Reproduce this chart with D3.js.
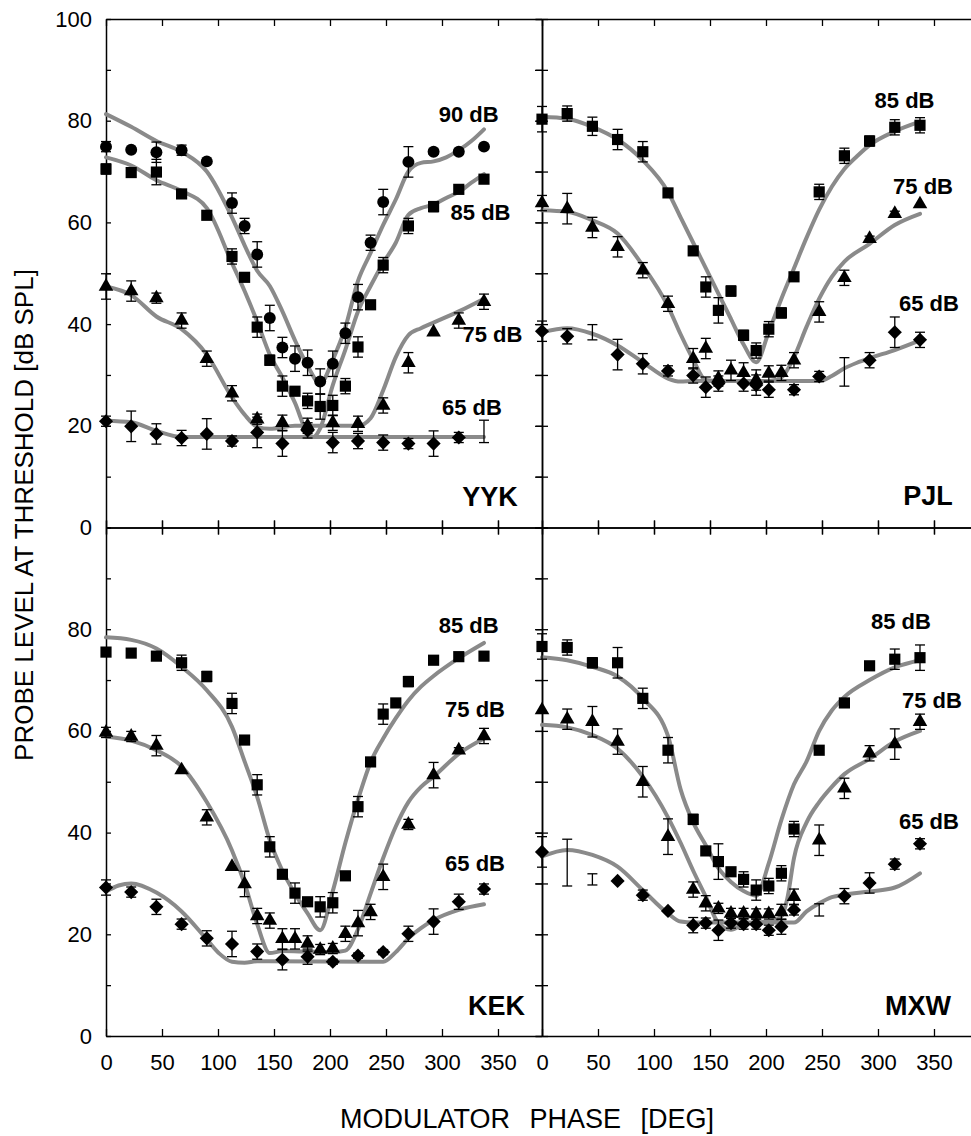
<!DOCTYPE html>
<html>
<head>
<meta charset="utf-8">
<script src="https://cdn.jsdelivr.net/npm/d3@7"></script>
<style>
  body { margin: 0; background: #fff; }
  text { font-family: "Liberation Sans", Arial, sans-serif; }
</style>
</head>
<body>
<div class="canvas"></div>
<script>
// tick values
const phaseTicks = [0, 50, 100, 150, 200, 250, 300, 350];
const levelTicks = [0, 10, 20, 30, 40, 50, 60, 70, 80, 90, 100];

// measured points: [phase deg, level dB, error dB]
const yyk90 = [[0,74.9,1],[22.5,74.3,0],[45,73.8,2],[67.5,74.2,1],[90,72.0,0],[112.5,63.8,2],[123.75,59.3,1.5],[135,53.7,2.5],[146.25,41.2,2.5],[157.5,35.4,2],[168.75,33.2,2.5],[180,32.4,2.5],[191.25,28.7,2.5],[202.5,32.2,2.5],[213.75,38.2,2],[225,45.3,2.5],[236.25,56,1.5],[247.5,64,2.5],[270,71.9,3],[292.5,73.9,0.5],[315,73.9,0.5],[337.5,74.9,0]];
const yyk85 = [[0,70.5,1],[22.5,69.8,0],[45,69.9,2.5],[67.5,65.6,0],[90,61.4,0],[112.5,53.3,1.5],[123.75,49.2,0],[135,39.4,2],[146.25,32.9,1],[157.5,27.8,2],[168.75,26.8,0],[180,24.9,1.5],[191.25,23.8,2.5],[202.5,24,2],[213.75,27.8,1.5],[225,35.5,2],[236.25,43.8,0],[247.5,51.6,1.5],[270,59.3,1.5],[292.5,63.1,1],[315,66.5,0],[337.5,68.5,0]];
const yyk75 = [[0,47.4,2.5],[22.5,46.5,2],[45,45.1,1],[67.5,40.7,1.5],[90,33.2,1.5],[112.5,26.4,1.5],[135,21.3,1],[157.5,20.6,1.5],[180,20,1.5],[202.5,20.6,1.5],[225,20.4,1.5],[247.5,24,1.5],[270,32.4,2],[292.5,38.4,0],[315,40.7,1.5],[337.5,44.4,1.5]];
const yyk65 = [[0,20.9,1],[22.5,19.9,3],[45,18.4,2],[67.5,17.6,1.5],[90,18.4,3],[112.5,17,1],[135,18.7,3],[157.5,16.5,2.5],[180,19.1,1.5],[202.5,16.7,2],[225,17,1.5],[247.5,16.7,1.5],[270,16.5,1],[292.5,16.5,2.5],[315,17.7,1]];
const yykBare = [[337.5,18.9,2.2]];

const pjl85 = [[0,80.3,2.5],[22.5,81.4,1.5],[45,78.9,1.8],[67.5,76.3,2],[90,73.9,2],[112.5,65.8,0],[135,54.4,0],[146.25,47.3,2],[157.5,42.7,2.5],[168.75,46.5,1],[180,37.8,1],[191.25,34.8,1.5],[202.5,39,1.5],[213.75,42.2,1],[225,49.3,0],[247.5,66,1.5],[270,73.1,1.5],[292.5,76,1],[315,78.7,1.5],[337.5,79.1,1.5]];
const pjl75 = [[0,63.8,1.5],[22.5,62.7,3],[45,59,2],[67.5,55.2,2],[90,50.6,1.5],[112.5,44,1.5],[135,33.2,2],[146.25,35.2,2],[157.5,29.3,1.5],[168.75,30.9,2],[180,30.4,2],[191.25,29,2],[202.5,30.3,1.5],[213.75,30.4,1.5],[225,32.9,1.5],[247.5,42.4,2],[270,49.1,1.5],[292.5,56.8,0.5],[315,61.7,0.5],[337.5,63.6,0]];
const pjl65 = [[0,38.6,2],[22.5,37.6,1.5],[67.5,34,3],[90,32.2,2],[112.5,30.8,1],[135,29.9,1.5],[146.25,27.6,2],[157.5,28.3,1.5],[180,28.3,1.5],[191.25,28,2],[202.5,27.1,1.5],[225,27.1,1],[247.5,29.7,1],[292.5,32.9,1.5],[315,38.4,3],[337.5,36.9,1.5]];
const pjlBare = [[45,38.4,1.5],[270,30.6,2.8]];

const kek85 = [[0,75.5,0],[22.5,75.3,0],[45,74.7,0],[67.5,73.4,1.5],[90,70.7,1],[112.5,65.4,2],[123.75,58.2,0],[135,49.4,2],[146.25,37.2,2],[157.5,31.8,0],[168.75,28.1,2],[180,26.4,0],[191.25,25.4,2],[202.5,26.2,2],[213.75,31.5,0],[225,45.1,2],[236.25,53.9,0],[247.5,63.3,2],[258.75,65.5,0],[270,69.7,1],[292.5,73.9,0],[315,74.6,0],[337.5,74.7,0]];
const kek75 = [[0,59.7,1],[22.5,58.9,1],[45,57.1,2],[67.5,52.3,0],[90,43,1.5],[112.5,33.3,0],[123.75,29.9,2.5],[135,23.6,1.5],[146.25,22.7,1.5],[157.5,19.1,2],[168.75,19.1,2],[180,18.2,1.5],[191.25,17,1],[202.5,17.2,1],[213.75,20.1,1.5],[225,22.2,2.5],[236.25,24.4,1.5],[247.5,31.3,2.5],[270,41.6,1],[292.5,51.3,2.5],[315,56.2,0.5],[337.5,59,1.5]];
const kek65 = [[0,29.2,1.5],[22.5,28.3,1],[45,25.4,1.5],[67.5,22,1],[90,19.2,1.5],[112.5,18.1,2.5],[135,16.6,1.5],[157.5,15,2],[180,15.6,1.5],[202.5,14.6,0.5],[225,15.8,0.5],[247.5,16.5,0.5],[270,20.1,1.5],[292.5,22.5,2.5],[315,26.4,1.5],[337.5,28.9,1]];
const kekBare = [];

const mxw85 = [[0,76.6,2.5],[22.5,76.4,1.5],[45,73.4,1],[67.5,73.4,3],[90,66.4,2],[112.5,56.2,2.5],[135,42.6,1],[146.25,36.4,0],[157.5,34.3,3.5],[168.75,32.3,0],[180,30.8,1.5],[191.25,28.7,2],[202.5,29.5,1.5],[213.75,32,1.5],[225,40.7,1.5],[247.5,56.2,0],[270,65.5,0.5],[292.5,72.8,0],[315,74.1,2],[337.5,74.4,2.5]];
const mxw75 = [[0,64.1,0],[22.5,62.3,2],[45,61.8,3],[67.5,57.9,2.5],[90,50,3],[112.5,39.2,3.5],[135,28.8,1.5],[146.25,26.1,1.5],[157.5,25.1,1],[168.75,24.1,1],[180,24.1,1],[191.25,24,1],[202.5,24,1],[213.75,24.4,1.5],[225,27.4,1.5],[247.5,38.5,3],[270,48.7,2],[292.5,55.6,1.5],[315,57.4,3],[337.5,61.8,1.5]];
const mxw65 = [[0,36.2,3],[67.5,30.5,0],[90,27.7,1],[112.5,24.6,0],[135,21.8,1.5],[146.25,22.2,1],[157.5,20.8,2],[168.75,22.2,1],[180,22,1],[191.25,22,1],[202.5,20.8,1],[213.75,21.5,1.5],[225,24.8,1],[270,27.5,1.5],[292.5,30.1,2],[315,33.8,1],[337.5,37.8,1]];
const mxwBare = [[22.5,34.1,4.6],[45,30.8,1.1],[247.5,24.8,1.2]];

// model fits: [phase deg, level dB]
const yyk90Fit = [[0,81.3],[22.5,78.8],[45,76],[67.5,73.9],[90,70],[112.5,61],[123.75,55.5],[135,50.5],[146.25,47.5],[157.5,42.5],[168.75,36.8],[180,31.8],[191.25,28.3],[202.5,33],[213.75,39.4],[225,48.5],[236.25,54],[247.5,59.5],[258.75,64.5],[270,70],[281.25,71.7],[292.5,72],[303.75,72.8],[315,74.2],[326.25,76],[337.5,78.3]];
const yyk85Fit = [[0,72.8],[22.5,71.2],[45,68.3],[67.5,66.2],[90,62.8],[112.5,52],[123.75,46.5],[135,40.5],[146.25,34],[157.5,29.5],[168.75,24.5],[180,18.5],[185,17.8],[191.25,19.5],[202.5,28],[213.75,35],[225,42.5],[236.25,47.5],[247.5,52],[258.75,56],[270,61.5],[281.25,62.8],[292.5,63.5],[303.75,64.8],[315,66],[326.25,67.8],[337.5,69.5]];
const yyk75Fit = [[0,47.4],[22.5,45.7],[45,41.5],[67.5,39],[90,34],[112.5,25.6],[123.75,22.2],[135,19.8],[146.25,19.4],[168.75,20],[202.5,20],[225,20],[236.25,21.5],[247.5,27],[258.75,33.5],[270,37.8],[281.25,39.2],[292.5,40.3],[315,42.5],[337.5,45]];
const yyk65Fit = [[0,21],[22.5,20.7],[45,19],[67.5,17.8],[90,17.8],[180,17.8],[270,17.8],[337.5,17.8]];

const pjl85Fit = [[0,80.8],[22.5,80.4],[45,78.8],[67.5,76.3],[90,72.2],[112.5,66],[123.75,61],[135,56],[146.25,51],[157.5,46],[168.75,41],[180,36],[191.25,32.5],[202.5,38.5],[213.75,45],[225,51],[236.25,57],[247.5,62.5],[258.75,67],[270,70.5],[281.25,73],[292.5,75.2],[315,77.9],[337.5,79.8]];
const pjl75Fit = [[0,62.4],[22.5,62.1],[45,60.4],[67.5,57.8],[90,51.5],[112.5,43.5],[123.75,38],[135,33],[146.25,29],[157.5,28.8],[202.5,28.8],[213.75,29.5],[225,33.5],[236.25,39.5],[247.5,45],[258.75,49.3],[270,52.3],[292.5,55.8],[315,59.5],[337.5,61.7]];
const pjl65Fit = [[0,38.4],[22.5,39.2],[45,38.1],[67.5,35.8],[90,32.5],[112.5,29.3],[123.75,28.7],[135,28.8],[247.5,28.8],[258.75,29.8],[270,31.3],[281.25,32.4],[292.5,33.3],[315,34.9],[337.5,36.8]];

const kek85Fit = [[0,78.4],[22.5,77.9],[45,76.2],[67.5,72.6],[90,68],[112.5,60.8],[123.75,54],[135,47],[146.25,38.5],[157.5,32.5],[168.75,28],[180,24.1],[191.25,20.8],[202.5,28.5],[213.75,38],[225,46.5],[236.25,53.8],[247.5,58.5],[258.75,62.5],[270,66],[281.25,68.7],[292.5,70.8],[315,74.3],[337.5,77.3]];
const kek75Fit = [[0,58.9],[22.5,58.1],[45,56.2],[67.5,53],[90,46],[112.5,36.5],[123.75,30],[135,22],[146.25,16.3],[157.5,16.7],[180,16.6],[202.5,16.5],[213.75,16.8],[225,21],[236.25,28],[247.5,35],[258.75,41.2],[270,46],[281.25,49],[292.5,51],[315,55.5],[337.5,58.5]];
const kek65Fit = [[0,28.4],[11.25,29.6],[22.5,30],[45,28.2],[67.5,24.5],[90,19],[101.25,16.2],[112.5,14.6],[123.75,14.4],[135,14.7],[247.5,14.6],[258.75,16.5],[270,19.2],[281.25,21.2],[292.5,22.8],[315,24.8],[337.5,25.9]];

const mxw85Fit = [[0,74.5],[22.5,73.9],[45,72.6],[67.5,70.7],[90,66.4],[112.5,59],[123.75,48.5],[135,42],[146.25,37.5],[157.5,33],[168.75,30.3],[180,28.5],[191.25,27.6],[202.5,34],[213.75,42.5],[225,49.5],[236.25,54],[247.5,60],[258.75,64],[270,66.7],[292.5,70],[315,72.5],[337.5,73.9]];
const mxw75Fit = [[0,61.2],[22.5,60.7],[45,59.2],[67.5,56.5],[90,51],[112.5,43],[123.75,38],[135,32.5],[146.25,27.4],[157.5,22.2],[168.75,20.9],[180,22],[191.25,22.3],[202.5,22.5],[213.75,23.5],[219,27],[225,35],[236.25,42],[247.5,46],[258.75,49],[270,51.5],[292.5,54.5],[315,57.9],[337.5,60]];
const mxw65Fit = [[0,35.3],[22.5,36.6],[45,35.6],[67.5,33.3],[90,28.7],[112.5,24.1],[123.75,22.5],[135,22.3],[225,22.3],[236.25,24.5],[247.5,26.1],[258.75,27.3],[270,27.8],[292.5,28.4],[315,29.2],[337.5,32]];

// annotations: [text, phase deg, level dB]
const yykLabels = [['90 dB',323.8,79.8],['85 dB',334.4,60.4],['75 dB',345,36.5],['65 dB',326.8,22.2]];
const pjlLabels = [['85 dB',323.7,82.5],['75 dB',340.2,65.6],['65 dB',345.5,42.5]];
const kekLabels = [['85 dB',323.8,79.3],['75 dB',329.5,62.7],['65 dB',329.5,32.4]];
const mxwLabels = [['85 dB',320.5,80],['75 dB',348.2,64.5],['65 dB',345.5,40.7]];

const panels = [
  {name: 'YYK', col: 0, row: 0, nameAt: [342.9, 4.3], labels: yykLabels, bare: yykBare,
   series: [{sym: 'circle', pts: yyk90, fit: yyk90Fit}, {sym: 'square', pts: yyk85, fit: yyk85Fit},
            {sym: 'triangle', pts: yyk75, fit: yyk75Fit}, {sym: 'diamond', pts: yyk65, fit: yyk65Fit}]},
  {name: 'PJL', col: 1, row: 0, nameAt: [344.6, 4.5], labels: pjlLabels, bare: pjlBare,
   series: [{sym: 'square', pts: pjl85, fit: pjl85Fit}, {sym: 'triangle', pts: pjl75, fit: pjl75Fit},
            {sym: 'diamond', pts: pjl65, fit: pjl65Fit}]},
  {name: 'KEK', col: 0, row: 1, nameAt: [348.7, 4.1], labels: kekLabels, bare: kekBare,
   series: [{sym: 'square', pts: kek85, fit: kek85Fit}, {sym: 'triangle', pts: kek75, fit: kek75Fit},
            {sym: 'diamond', pts: kek65, fit: kek65Fit}]},
  {name: 'MXW', col: 1, row: 1, nameAt: [335.7, 4.1], labels: mxwLabels, bare: mxwBare,
   series: [{sym: 'square', pts: mxw85, fit: mxw85Fit}, {sym: 'triangle', pts: mxw75, fit: mxw75Fit},
            {sym: 'diamond', pts: mxw65, fit: mxw65Fit}]},
];

const width = 971, height = 1136;
const margin = {left: 106, top: 19};
const panelW = 436, panelH = 508.5;

const svg = d3.select('.canvas')
  .append('svg')
  .attr('width', width)
  .attr('height', height)
  .style('background', '#fff');

const x = d3.scaleLinear().domain([0, 389.3]).range([0, panelW]);
const y = d3.scaleLinear().domain([0, 100]).range([panelH, 0]);

const symbolType = {
  circle: d3.symbolCircle, square: d3.symbolSquare,
  triangle: d3.symbolTriangle, diamond: d3.symbolSquare
};
const symbolSize = {circle: 112, square: 125, triangle: 92, diamond: 100};

const line = d3.line()
  .x(d => x(d[0]))
  .y(d => y(d[1]))
  .curve(d3.curveMonotoneX);

function styleAxis(g) {
  g.selectAll('path').attr('stroke', '#000').attr('stroke-width', 1.5);
  g.selectAll('line').attr('stroke', '#000').attr('stroke-width', 1.3);
  g.selectAll('text')
    .attr('font-size', 22)
    .attr('font-family', '"Liberation Sans", Arial, sans-serif')
    .attr('fill', '#000');
}

function errorBars(g, pts) {
  const bars = g.selectAll(null)
    .data(pts.filter(d => d[2] > 0))
    .enter().append('g')
    .attr('stroke', '#000')
    .attr('stroke-width', 1.3);
  bars.append('line')
    .attr('x1', d => x(d[0])).attr('x2', d => x(d[0]))
    .attr('y1', d => y(d[1] - d[2])).attr('y2', d => y(d[1] + d[2]));
  bars.append('line')
    .attr('x1', d => x(d[0]) - 5).attr('x2', d => x(d[0]) + 5)
    .attr('y1', d => y(d[1] + d[2])).attr('y2', d => y(d[1] + d[2]));
  bars.append('line')
    .attr('x1', d => x(d[0]) - 5).attr('x2', d => x(d[0]) + 5)
    .attr('y1', d => y(d[1] - d[2])).attr('y2', d => y(d[1] - d[2]));
}

panels.forEach(p => {
  const g = svg.append('g')
    .attr('transform', `translate(${margin.left + p.col * panelW}, ${margin.top + p.row * panelH})`);

  // left edge
  const left = d3.axisLeft(y).tickValues(levelTicks).tickSizeInner(-5).tickSizeOuter(0)
    .tickPadding(14)
    .tickFormat(d => (p.col === 0 && d % 20 === 0 && !(p.row === 1 && d === 100)) ? d : '');
  if (p.col === 1) left.tickSizeInner(6);
  const leftG = g.append('g').call(left);
  if (p.col === 1) leftG.selectAll('.tick line').attr('x1', 6).attr('x2', -6);
  styleAxis(leftG);

  // right edge
  const right = d3.axisRight(y).tickValues(levelTicks).tickSizeInner(-7).tickSizeOuter(0).tickFormat('');
  styleAxis(g.append('g').attr('transform', `translate(${panelW},0)`).call(right));

  // top edge
  const top = d3.axisTop(x).tickValues(phaseTicks).tickSizeInner(-7).tickSizeOuter(0).tickFormat('');
  const topG = g.append('g').call(top);
  if (p.row === 1) topG.selectAll('.tick line').attr('y1', -7).attr('y2', 7);
  styleAxis(topG);

  // bottom edge
  const bottom = d3.axisBottom(x).tickValues(phaseTicks).tickSizeInner(-7).tickSizeOuter(0)
    .tickPadding(18)
    .tickFormat(d => p.row === 1 ? d : '');
  const bottomG = g.append('g').attr('transform', `translate(0,${panelH})`).call(bottom);
  if (p.row === 0) bottomG.selectAll('.tick line').attr('y1', -7).attr('y2', 7);
  styleAxis(bottomG);

  // fitted curves
  g.selectAll('path.fit')
    .data(p.series)
    .enter().append('path')
    .attr('class', 'fit')
    .attr('d', s => line(s.fit))
    .attr('fill', 'none')
    .attr('stroke', '#8a8a8a')
    .attr('stroke-width', 4)
    .attr('stroke-linecap', 'round');

  // error bars and symbols
  p.series.forEach(s => {
    errorBars(g, s.pts);
    g.selectAll(null)
      .data(s.pts)
      .enter().append('path')
      .attr('d', d3.symbol().type(symbolType[s.sym]).size(symbolSize[s.sym]))
      .attr('transform', d => `translate(${x(d[0])},${y(d[1])})` + (s.sym === 'diamond' ? ' rotate(45)' : ''))
      .attr('fill', '#000');
  });
  errorBars(g, p.bare);

  // level labels
  g.selectAll('text.lvl')
    .data(p.labels)
    .enter().append('text')
    .attr('class', 'lvl')
    .attr('x', d => x(d[1]))
    .attr('y', d => y(d[2]))
    .attr('text-anchor', 'middle')
    .attr('font-size', 22)
    .attr('font-weight', 'bold')
    .text(d => d[0]);

  g.append('text')
    .attr('x', x(p.nameAt[0]))
    .attr('y', y(p.nameAt[1]))
    .attr('text-anchor', 'middle')
    .attr('font-size', 27)
    .attr('font-weight', 'bold')
    .text(p.name);
});

// axis titles
svg.append('text')
  .attr('x', 527)
  .attr('y', 1128)
  .attr('text-anchor', 'middle')
  .attr('font-size', 27)
  .attr('word-spacing', 12)
  .text('MODULATOR PHASE [DEG]');

svg.append('text')
  .attr('transform', 'translate(33, 515) rotate(-90)')
  .attr('text-anchor', 'middle')
  .attr('font-size', 26)
  .text('PROBE LEVEL AT THRESHOLD [dB SPL]');
</script>
</body>
</html>
